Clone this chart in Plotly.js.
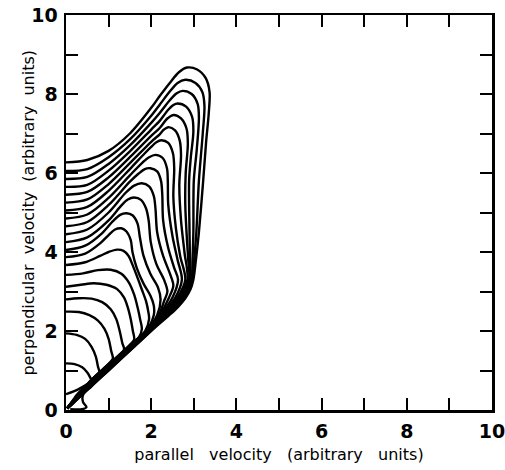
<!DOCTYPE html>
<html>
<head>
<meta charset="utf-8">
<script src="https://cdn.plot.ly/plotly-3.0.1.min.js"></script>
<style>
  html, body { margin: 0; padding: 0; background: #fff; }
  #chart { width: 505px; height: 470px; }
</style>
</head>
<body>
<div id="chart"></div>
<script>
// Level curves in (parallel, perpendicular) velocity space, outermost first.
const x0 = [0, 0.5, 1.0, 1.5, 2.0, 2.2, 2.45, 2.65, 2.84, 3.08, 3.28, 3.37, 3.35, 3.29, 3.22, 3.12, 3.05, 2.99, 2.92, 2.8, 2.62, 2.4, 2.1, 1.6, 1.0, 0.6, 0.4, 0.4, 0.48, 0.38, 0.1];
const y0 = [6.27, 6.33, 6.56, 7.0, 7.65, 7.95, 8.3, 8.55, 8.67, 8.62, 8.4, 8.05, 7.5, 6.8, 5.8, 4.5, 3.8, 3.3, 3.05, 2.83, 2.6, 2.38, 2.1, 1.6, 1.0, 0.6, 0.38, 0.2, 0.07, 0.02, 0.02];

const x1 = [0, 0.5, 1.0, 1.5, 2.0, 2.2, 2.45, 2.62, 2.8, 3.04, 3.2, 3.25, 3.21, 3.12, 3.06, 3.01, 2.97, 2.79, 2.38, 2.0, 1.5, 1.0, 0.6, 0.35, 0.1, 0.03];
const y1 = [6.05, 6.1, 6.4, 6.85, 7.45, 7.73, 8.08, 8.28, 8.36, 8.28, 8.05, 7.7, 7.0, 5.8, 4.5, 3.8, 3.3, 2.85, 2.4, 2.01, 1.51, 1.01, 0.61, 0.36, 0.1, 0.04];

const x2 = [0, 0.5, 1.0, 1.5, 2.0, 2.2, 2.45, 2.6, 2.74, 2.95, 3.09, 3.12, 3.07, 3.0, 2.99, 2.97, 2.95, 2.76, 2.35, 1.98, 1.5, 1.0, 0.6, 0.35, 0.1, 0.03];
const y2 = [5.85, 5.9, 6.23, 6.7, 7.27, 7.52, 7.86, 8.02, 8.08, 8.0, 7.75, 7.4, 6.6, 5.8, 4.5, 3.8, 3.3, 2.85, 2.4, 2.0, 1.52, 1.02, 0.62, 0.37, 0.11, 0.04];

const x3 = [0, 0.5, 1.0, 1.5, 2.0, 2.2, 2.4, 2.52, 2.62, 2.82, 2.96, 2.99, 2.93, 2.89, 2.9, 2.91, 2.92, 2.73, 2.32, 1.97, 1.5, 1.0, 0.6, 0.35, 0.1, 0.03];
const y3 = [5.65, 5.7, 6.06, 6.55, 7.1, 7.32, 7.6, 7.72, 7.76, 7.68, 7.42, 7.05, 6.4, 5.8, 4.5, 3.8, 3.3, 2.85, 2.4, 2.0, 1.53, 1.03, 0.63, 0.37, 0.11, 0.04];

const x4 = [0, 0.5, 1.0, 1.5, 2.0, 2.2, 2.38, 2.53, 2.7, 2.83, 2.86, 2.81, 2.8, 2.84, 2.87, 2.89, 2.7, 2.3, 1.96, 1.5, 1.0, 0.6, 0.35, 0.1, 0.03];
const y4 = [5.45, 5.52, 5.89, 6.4, 6.94, 7.14, 7.38, 7.47, 7.38, 7.12, 6.75, 6.0, 5.2, 4.3, 3.8, 3.3, 2.85, 2.4, 2.0, 1.54, 1.04, 0.64, 0.38, 0.12, 0.04];

const x5 = [0, 0.5, 1.0, 1.5, 2.0, 2.2, 2.3, 2.4, 2.56, 2.67, 2.7, 2.66, 2.7, 2.78, 2.85, 2.66, 2.28, 1.95, 1.5, 1.0, 0.6, 0.35, 0.1, 0.03];
const y5 = [5.25, 5.33, 5.72, 6.25, 6.79, 6.98, 7.1, 7.16, 7.08, 6.82, 6.45, 5.7, 4.8, 4.0, 3.3, 2.85, 2.4, 2.0, 1.55, 1.05, 0.65, 0.38, 0.12, 0.04];

const x6 = [0, 0.5, 1.0, 1.5, 1.85, 2.0, 2.12, 2.24, 2.4, 2.51, 2.54, 2.52, 2.58, 2.68, 2.8, 2.62, 2.26, 1.94, 1.5, 1.0, 0.6, 0.35, 0.1, 0.03];
const y6 = [5.05, 5.14, 5.55, 6.1, 6.5, 6.66, 6.78, 6.83, 6.76, 6.5, 6.12, 5.4, 4.6, 3.9, 3.3, 2.85, 2.4, 2.0, 1.56, 1.06, 0.66, 0.39, 0.12, 0.04];

const x7 = [0, 0.5, 1.0, 1.5, 1.8, 1.95, 2.1, 2.27, 2.37, 2.39, 2.4, 2.5, 2.62, 2.72, 2.57, 2.24, 1.93, 1.5, 1.0, 0.6, 0.35, 0.1, 0.03];
const y7 = [4.85, 4.95, 5.37, 5.94, 6.27, 6.4, 6.46, 6.38, 6.12, 5.78, 5.2, 4.4, 3.8, 3.3, 2.85, 2.4, 2.0, 1.57, 1.07, 0.67, 0.39, 0.13, 0.04];

const x8 = [0, 0.5, 1.0, 1.5, 1.7, 1.85, 1.98, 2.14, 2.23, 2.26, 2.28, 2.4, 2.54, 2.63, 2.5, 2.22, 1.92, 1.5, 1.0, 0.6, 0.35, 0.1, 0.03];
const y8 = [4.65, 4.76, 5.19, 5.78, 5.98, 6.1, 6.12, 6.04, 5.8, 5.45, 4.8, 4.1, 3.6, 3.3, 2.85, 2.4, 2.0, 1.58, 1.08, 0.68, 0.4, 0.13, 0.04];

const x9 = [0, 0.5, 1.0, 1.4, 1.6, 1.78, 1.95, 2.06, 2.1, 2.14, 2.28, 2.44, 2.52, 2.42, 2.2, 1.91, 1.5, 1.0, 0.6, 0.35, 0.1, 0.03];
const y9 = [4.45, 4.57, 5.0, 5.5, 5.68, 5.74, 5.66, 5.42, 5.1, 4.5, 3.9, 3.45, 3.15, 2.85, 2.4, 2.0, 1.59, 1.09, 0.69, 0.41, 0.13, 0.04];

const x10 = [0, 0.5, 1.0, 1.3, 1.45, 1.6, 1.76, 1.88, 1.94, 1.99, 2.12, 2.3, 2.38, 2.3, 2.18, 1.9, 1.5, 1.0, 0.6, 0.35, 0.1, 0.03];
const y10 = [4.25, 4.37, 4.8, 5.18, 5.33, 5.38, 5.32, 5.1, 4.8, 4.25, 3.7, 3.3, 3.0, 2.75, 2.4, 2.0, 1.6, 1.1, 0.7, 0.41, 0.13, 0.04];

const x11 = [0, 0.45, 0.85, 1.1, 1.27, 1.42, 1.56, 1.68, 1.73, 1.82, 1.98, 2.16, 2.22, 2.14, 1.89, 1.5, 1.0, 0.6, 0.35, 0.1, 0.03];
const y11 = [4.05, 4.16, 4.48, 4.78, 4.94, 4.98, 4.93, 4.72, 4.4, 3.9, 3.45, 3.1, 2.8, 2.4, 2.0, 1.61, 1.11, 0.71, 0.42, 0.14, 0.04];

const x12 = [0, 0.45, 0.8, 1.0, 1.15, 1.3, 1.42, 1.52, 1.56, 1.66, 1.82, 1.98, 2.06, 2.06, 1.88, 1.5, 1.0, 0.6, 0.35, 0.1, 0.03];
const y12 = [3.87, 3.96, 4.22, 4.43, 4.57, 4.6, 4.52, 4.3, 4.0, 3.6, 3.2, 2.9, 2.65, 2.4, 2.0, 1.62, 1.12, 0.72, 0.42, 0.14, 0.04];

const x13 = [0, 0.45, 0.8, 1.0, 1.2, 1.35, 1.47, 1.56, 1.66, 1.78, 1.88, 1.93, 1.95, 1.86, 1.5, 1.0, 0.6, 0.35, 0.1, 0.03];
const y13 = [3.67, 3.74, 3.9, 4.0, 4.06, 4.03, 3.9, 3.68, 3.4, 3.05, 2.75, 2.5, 2.3, 2.0, 1.63, 1.13, 0.73, 0.43, 0.14, 0.04];

const x14 = [0, 0.4, 0.75, 1.05, 1.3, 1.48, 1.6, 1.68, 1.74, 1.78, 1.72, 1.5, 1.0, 0.6, 0.35, 0.1, 0.03];
const y14 = [3.42, 3.46, 3.54, 3.55, 3.45, 3.22, 2.92, 2.6, 2.3, 2.05, 1.86, 1.64, 1.14, 0.74, 0.44, 0.14, 0.04];

const x15 = [0, 0.35, 0.65, 0.95, 1.2, 1.36, 1.45, 1.52, 1.57, 1.6, 1.5, 1.0, 0.6, 0.35, 0.1, 0.03];
const y15 = [3.12, 3.17, 3.21, 3.17, 3.06, 2.85, 2.6, 2.3, 2.0, 1.78, 1.65, 1.15, 0.75, 0.44, 0.14, 0.04];

const x16 = [0, 0.3, 0.6, 0.85, 1.05, 1.18, 1.26, 1.32, 1.36, 1.0, 0.6, 0.35, 0.1, 0.03];
const y16 = [2.8, 2.83, 2.82, 2.73, 2.55, 2.3, 2.0, 1.7, 1.52, 1.16, 0.76, 0.45, 0.14, 0.04];

const x17 = [0, 0.3, 0.55, 0.75, 0.9, 1.0, 1.06, 1.1, 1.0, 0.6, 0.35, 0.1, 0.03];
const y17 = [2.49, 2.48, 2.4, 2.26, 2.06, 1.8, 1.5, 1.3, 1.17, 0.77, 0.45, 0.14, 0.04];

const x18 = [0, 0.25, 0.45, 0.6, 0.7, 0.75, 0.78, 0.6, 0.35, 0.1, 0.03];
const y18 = [1.94, 1.9, 1.8, 1.6, 1.35, 1.1, 0.95, 0.77, 0.46, 0.15, 0.05];

const x19 = [0, 0.2, 0.38, 0.5, 0.57, 0.6, 0.45, 0.25, 0.08, 0.02];
const y19 = [1.18, 1.16, 1.08, 0.95, 0.82, 0.74, 0.6, 0.38, 0.12, 0.05];

const x20 = [0, 0.18, 0.35, 0.5];
const y20 = [0.4, 0.47, 0.56, 0.66];

// Axis ticks: every unit, labelled on even values.
const tickValues = [0, 1, 2, 3, 4, 5, 6, 7, 8, 9, 10];
const tickLabels = ['0', '', '2', '', '4', '', '6', '', '8', '', '10'];

const curves = [
  [x0, y0], [x1, y1], [x2, y2], [x3, y3], [x4, y4], [x5, y5], [x6, y6],
  [x7, y7], [x8, y8], [x9, y9], [x10, y10], [x11, y11], [x12, y12],
  [x13, y13], [x14, y14], [x15, y15], [x16, y16], [x17, y17], [x18, y18],
  [x19, y19], [x20, y20]
];

const traces = curves.map(([xs, ys]) => ({
  x: xs,
  y: ys,
  type: 'scatter',
  mode: 'lines',
  line: { color: '#000', width: 2.4, shape: 'spline', smoothing: 0.9 },
  hoverinfo: 'skip'
}));

const gapX = '\u00a0\u00a0\u00a0';
const gapY = '\u00a0\u00a0';
const titleFont = { family: 'DejaVu Sans', size: 16, color: '#000' };
const axisCommon = {
  range: [0, 10],
  tickmode: 'array',
  tickvals: tickValues,
  ticktext: tickLabels,
  ticks: 'inside',
  ticklen: 12,
  tickwidth: 2,
  tickcolor: '#000',
  showline: true,
  linecolor: '#000',
  linewidth: 2.5,
  mirror: 'ticks',
  showgrid: false,
  zeroline: false,
  fixedrange: true,
  ticklabeloverflow: 'allow',
  tickfont: { family: 'DejaVu Sans', size: 19, color: '#000', weight: 'bold' }
};

const layout = {
  width: 505,
  height: 470,
  margin: { l: 66, r: 13, t: 15, b: 60 },
  paper_bgcolor: '#fff',
  plot_bgcolor: '#fff',
  showlegend: false,
  xaxis: Object.assign({}, axisCommon, {
    ticklabelstandoff: 3,
    title: {
      text: 'parallel' + gapX + 'velocity' + gapX + '(arbitrary' + gapX + 'units)',
      font: titleFont,
      standoff: 8
    }
  }),
  yaxis: Object.assign({}, axisCommon, {
    ticklabelstandoff: 2
  }),
  annotations: [{
    text: 'perpendicular' + gapY + 'velocity' + gapY + '(arbitrary' + gapY + 'units)',
    font: titleFont,
    textangle: -90,
    xref: 'paper',
    yref: 'paper',
    x: -0.089,
    y: 0.5,
    xanchor: 'center',
    yanchor: 'middle',
    showarrow: false
  }]
};

Plotly.newPlot('chart', traces, layout, { displayModeBar: false, staticPlot: true });
</script>
</body>
</html>
